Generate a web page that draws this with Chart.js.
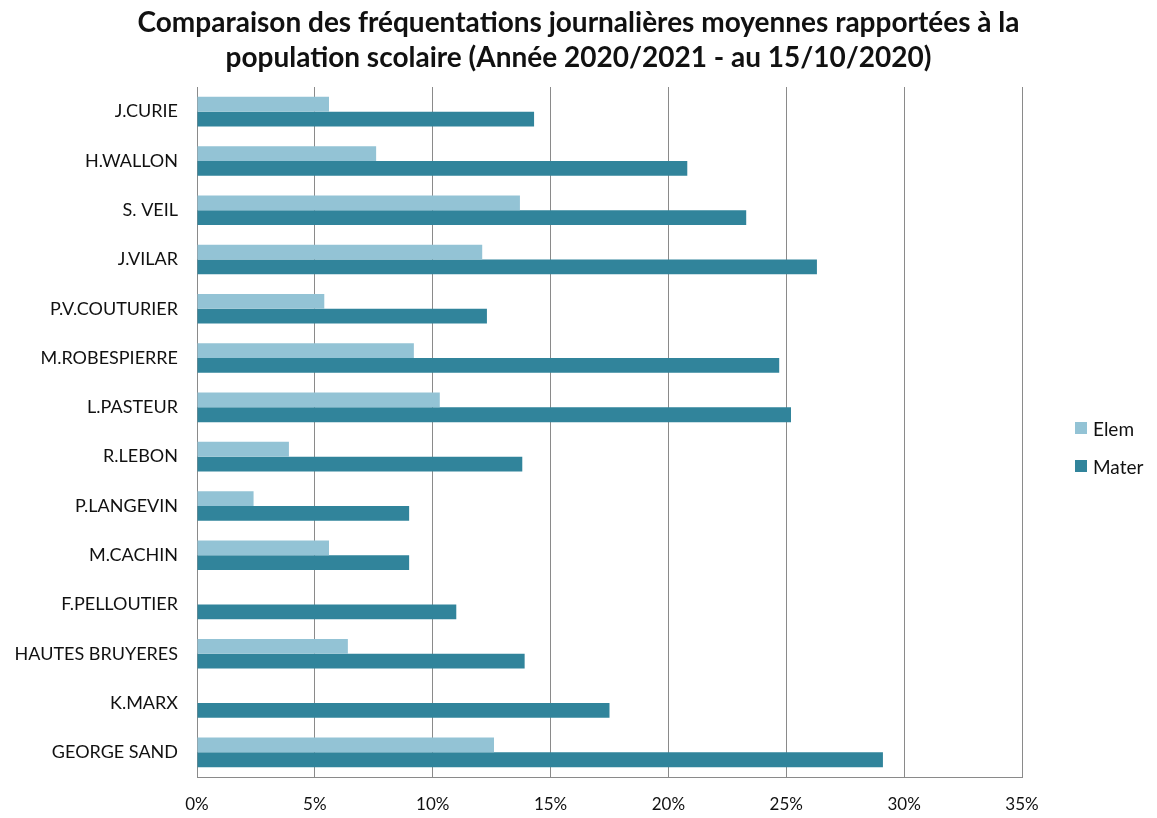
<!DOCTYPE html>
<html>
<head>
<meta charset="utf-8">
<script src="https://cdn.jsdelivr.net/npm/chart.js@4.4.1/dist/chart.umd.min.js"></script>
<style>
  html, body { margin: 0; padding: 0; background: #fff; }
  #wrap { position: relative; width: 1157px; height: 818px; }
  #legend { position: absolute; left: 1075px; top: 417px; font-family: Lato, sans-serif; font-size: 19px; color: #111; }
  #legend div { display: flex; align-items: center; height: 22px; margin-bottom: 16px; }
  #legend span { display: inline-block; width: 12px; height: 12px; margin-right: 6px; }
</style>
</head>
<body>
<div id="wrap">
  <canvas id="freqChart" width="1157" height="818"></canvas>
  <div id="legend"></div>
</div>
<script>
// Écoles et fréquentations (% de la population scolaire)
const ecoles = [
  "J.CURIE",
  "H.WALLON",
  "S. VEIL",
  "J.VILAR",
  "P.V.COUTURIER",
  "M.ROBESPIERRE",
  "L.PASTEUR",
  "R.LEBON",
  "P.LANGEVIN",
  "M.CACHIN",
  "F.PELLOUTIER",
  "HAUTES BRUYERES",
  "K.MARX",
  "GEORGE SAND",
];
const elem = [5.6, 7.6, 13.7, 12.1, 5.4, 9.2, 10.3, 3.9, 2.4, 5.6, 0, 6.4, 0, 12.6];
const mater = [14.3, 20.8, 23.3, 26.3, 12.3, 24.7, 25.2, 13.8, 9.0, 9.0, 11.0, 13.9, 17.5, 29.1];
const xTicks = [0, 5, 10, 15, 20, 25, 30, 35];

const ctx = document.getElementById("freqChart").getContext("2d");
const freqChart = new Chart(ctx, {
  type: "bar",
  data: {
    labels: ecoles,
    datasets: [
      {
        label: "Elem",
        data: elem,
        backgroundColor: "#93c3d5",
        barPercentage: 1.0,
        categoryPercentage: 0.6,
      },
      {
        label: "Mater",
        data: mater,
        backgroundColor: "#31849b",
        barPercentage: 1.0,
        categoryPercentage: 0.6,
      },
    ],
  },
  options: {
    responsive: false,
    animation: false,
    indexAxis: "y",
    layout: {
      padding: 0,
    },
    plugins: {
      legend: { display: false },
      tooltip: { enabled: false },
      title: {
        display: true,
        text: [
          "Comparaison des fréquentations journalières moyennes rapportées à la",
          "population scolaire (Année 2020/2021 - au 15/10/2020)",
        ],
        color: "#111",
        font: { family: "Lato", size: 28, weight: "bold", lineHeight: 1.25 },
        padding: { top: 5, bottom: 12 },
      },
    },
    scales: {
      x: {
        min: 0,
        max: 35,
        afterBuildTicks: function (scale) {
          scale.ticks = xTicks.map((v) => ({ value: v }));
        },
        afterFit: function (scale) {
          scale.height = 41;
        },
        grid: {
          color: "#8a8a8a",
          lineWidth: 1,
          drawTicks: false,
        },
        border: { display: true, color: "#8a8a8a" },
        ticks: {
          padding: 17,
          color: "#111",
          font: { family: "Lato", size: 17 },
          callback: function (value) {
            return value + "%";
          },
        },
      },
      y: {
        afterFit: function (scale) {
          scale.width = 197;
        },
        grid: { display: false, drawTicks: false },
        border: { display: true, color: "#8a8a8a" },
        ticks: {
          padding: 19,
          color: "#111",
          font: { family: "Lato", size: 18 },
        },
      },
      // axe vide à droite : réserve la place de la légende
      yLegende: {
        type: "category",
        position: "right",
        afterFit: function (scale) {
          scale.width = 135;
        },
        grid: { display: false, drawTicks: false },
        border: { display: false },
        ticks: { display: false },
      },
    },
  },
});

// Légende HTML construite depuis les jeux de données
const legendEl = document.getElementById("legend");
freqChart.data.datasets.forEach((ds) => {
  const item = document.createElement("div");
  const box = document.createElement("span");
  box.style.background = ds.backgroundColor;
  item.appendChild(box);
  item.appendChild(document.createTextNode(ds.label));
  legendEl.appendChild(item);
});
</script>
</body>
</html>
